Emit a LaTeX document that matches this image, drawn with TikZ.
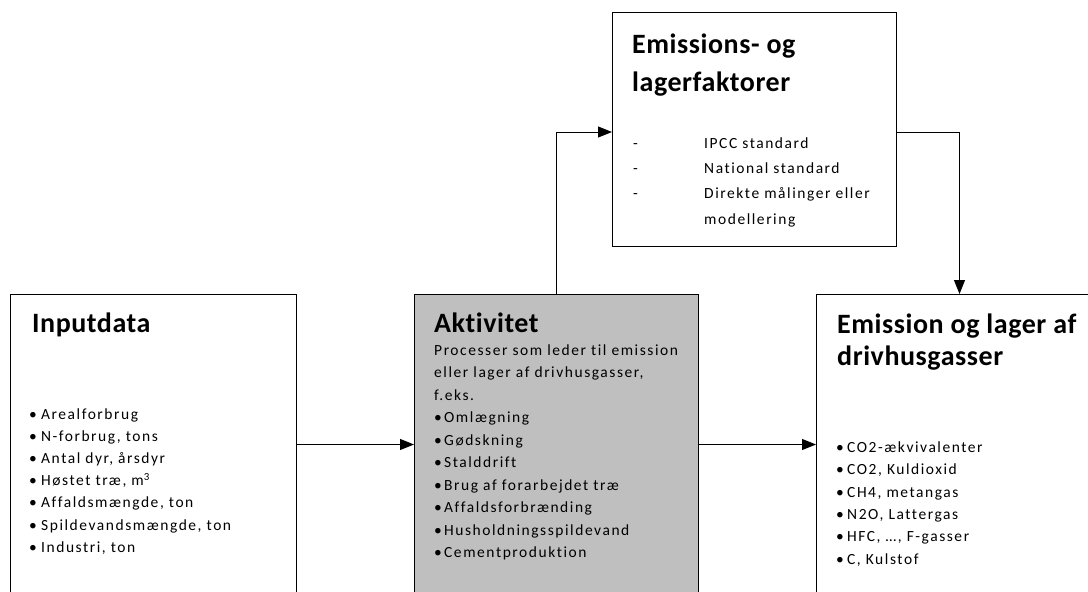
\documentclass[tikz,border=0pt]{standalone}
\usepackage{fontspec}
\setmainfont[Ligatures=NoCommon]{Carlito}
\newfontfamily\bodyfont[LetterSpace=10,Ligatures=NoCommon]{Carlito}
\newfontfamily\headfont[LetterSpace=2,Ligatures=NoCommon]{Carlito}
\usetikzlibrary{arrows.meta}
\definecolor{boxgray}{HTML}{BFBFBF}
\begin{document}
\begin{tikzpicture}[x=1pt,y=-1pt,
  box/.style={draw=black, line width=1pt, anchor=north west, inner sep=0pt},
  title/.style={anchor=base west, inner sep=0pt, font=\headfont\fontsize{28}{34}\selectfont\bfseries},
  body/.style={anchor=base west, inner sep=0pt, font=\bodyfont\fontsize{15.5}{18}\selectfont},
  arr/.style={line width=1pt, -{Triangle[length=14pt,width=11pt]}}]
\useasboundingbox (0,0) rectangle (1088,592);
\clip (0,0) rectangle (1088,592);
\fill[white] (0,0) rectangle (1088,592);
% boxes
\node[box, minimum width=286pt, minimum height=300pt] (inp) at (10,294) {};
\node[box, fill=boxgray, minimum width=284pt, minimum height=300pt] (akt) at (414,294) {};
\node[box, minimum width=286pt, minimum height=300pt] (emi) at (816,294) {};
\node[box, minimum width=284pt, minimum height=234pt] (fac) at (612,12) {};
% connectors
\coordinate (ylev) at (0,132);
\draw[arr] (inp.east) -- (akt.west);
\draw[arr] (akt.east) -- (emi.west);
\draw[arr] (akt.north) |- (fac.west |- ylev);
\draw[arr] (fac.east |- ylev) -| (emi.north);
% factor box text
\node[title] (facT1) at (632,53) {Emissions- og};
\node[title] (facT2) at (632,91) {lagerfaktorer};
\foreach \t [count=\i] in {IPCC standard, National standard, Direkte målinger eller}{
  \node[body] (facd\i) at (633,{148+25.3*(\i-1)}) {-};
  \node[body] (fac\i) at (704,{148+25.3*(\i-1)}) {\t};
}
\node[body] (fac4) at (704,224) {modellering};
% input box text
\node[title] (inpT) at (32,332) {Inputdata};
\foreach \t [count=\i] in {Arealforbrug, {N-forbrug, tons}, {Antal dyr, årsdyr}, {Høstet træ, m\textsuperscript{3}},
  {Affaldsmængde, ton}, {Spildevandsmængde, ton}, {Industri, ton}}{
  \node[body] (inpb\i) at (29,{419+22.2*(\i-1)}) {•};
  \node[body] (inp\i) at (41,{419+22.2*(\i-1)}) {\t};
}
% activity box text
\node[title] (aktT) at (434,332) {Aktivitet};
\foreach \t [count=\i] in {Processer som leder til emission, {eller lager af drivhusgasser,}, f.eks.}{
  \node[body] (aktp\i) at (434,{355+22.5*(\i-1)}) {\t};
}
\foreach \t [count=\i] in {Omlægning, Gødskning, Stalddrift, Brug af forarbejdet træ,
  Affaldsforbrænding, Husholdningsspildevand, Cementproduktion}{
  \node[body] (aktb\i) at (434,{422.5+22.5*(\i-1)}) {•};
  \node[body] (akt\i) at (444,{422.5+22.5*(\i-1)}) {\t};
}
% emission box text
\node[title] (emiT1) at (837,333) {Emission og lager af};
\node[title] (emiT2) at (837,365) {drivhusgasser};
\foreach \t [count=\i] in {CO2-ækvivalenter, {CO2, Kuldioxid}, {CH4, metangas}, {N2O, Lattergas},
  {HFC, …, F-gasser}, {C, Kulstof}}{
  \node[body] (emib\i) at (836,{452.5+22.3*(\i-1)}) {•};
  \node[body] (emi\i) at (847,{452.5+22.3*(\i-1)}) {\t};
}
\end{tikzpicture}
\end{document}
